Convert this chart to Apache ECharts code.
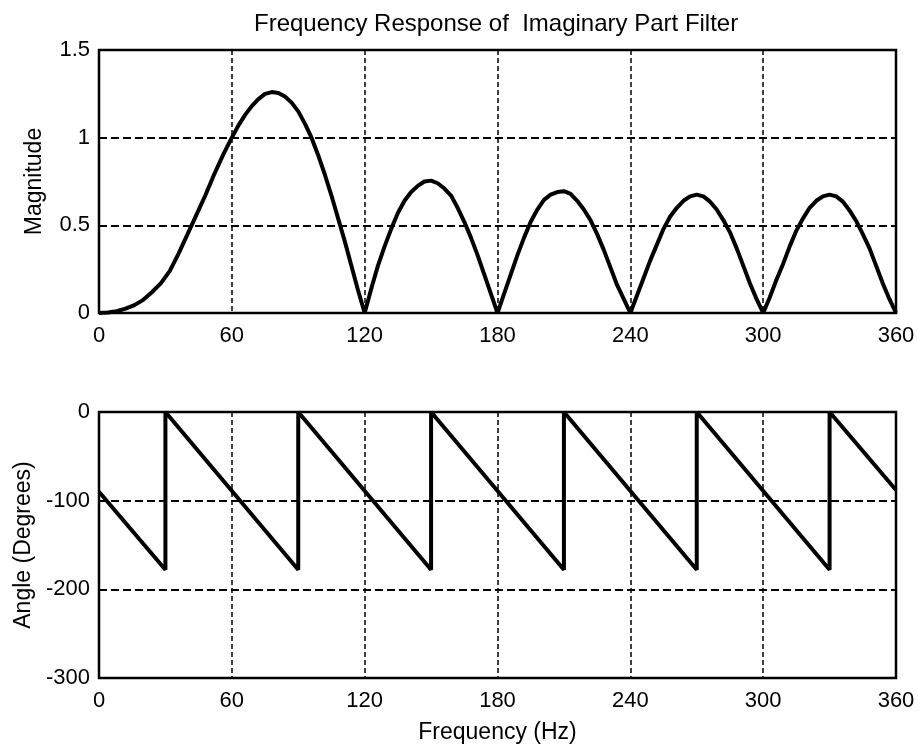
<!DOCTYPE html>
<html>
<head>
<meta charset="utf-8">
<title>Frequency Response of Imaginary Part Filter</title>
<script src="https://cdn.jsdelivr.net/npm/echarts@6/dist/echarts.min.js"></script>
<style>
  html, body { margin: 0; padding: 0; background: #fff; }
  .chartBox { width: 918px; height: 749px; }
</style>
</head>
<body>
<div class="chartBox"></div>
<script>
// magnitude
const magFreq = [0, 4, 8, 12, 16, 20, 24, 28, 32, 36, 40, 44, 48, 52, 56, 60, 63, 66, 69, 72, 75, 78, 81, 84, 87, 90, 93, 96, 99, 102, 105, 108, 111, 114, 117, 120,
  123, 126, 129, 132, 135, 138, 141, 144, 147, 150, 153, 156, 159, 162, 165, 168, 171, 174, 177, 180,
  183, 186, 189, 192, 195, 198, 201, 204, 207, 210, 213, 216, 219, 222, 225, 228, 231, 234, 237, 240,
  243, 246, 249, 252, 255, 258, 261, 264, 267, 270, 273, 276, 279, 282, 285, 288, 291, 294, 297, 300,
  303, 306, 309, 312, 315, 318, 321, 324, 327, 330, 333, 336, 339, 342, 345, 348, 351, 354, 357, 360];
const magValue = [0, 0.003, 0.01, 0.025, 0.045, 0.075, 0.12, 0.17, 0.24, 0.34, 0.45, 0.56, 0.67, 0.79, 0.9, 1.0, 1.07, 1.13, 1.18, 1.22, 1.25, 1.26, 1.255, 1.235, 1.2, 1.15, 1.08, 1.0, 0.9, 0.79, 0.67, 0.54, 0.41, 0.27, 0.13, 0,
  0.14, 0.27, 0.38, 0.48, 0.57, 0.64, 0.69, 0.725, 0.75, 0.755, 0.74, 0.71, 0.67, 0.6, 0.52, 0.43, 0.33, 0.22, 0.11, 0,
  0.11, 0.22, 0.33, 0.43, 0.52, 0.59, 0.645, 0.675, 0.69, 0.695, 0.68, 0.64, 0.59, 0.53, 0.45, 0.36, 0.26, 0.16, 0.08, 0,
  0.1, 0.2, 0.3, 0.39, 0.48, 0.55, 0.6, 0.64, 0.665, 0.675, 0.665, 0.635, 0.59, 0.53, 0.46, 0.37, 0.27, 0.17, 0.08, 0,
  0.09, 0.19, 0.28, 0.38, 0.47, 0.54, 0.6, 0.64, 0.665, 0.675, 0.665, 0.635, 0.585, 0.525, 0.45, 0.37, 0.27, 0.17, 0.08, 0];

// phase (sawtooth corners)
const phaseFreq = [0, 30, 30, 90, 90, 150, 150, 210, 210, 270, 270, 330, 330, 360];
const phaseDeg = [-90, -178, 0, -178, 0, -178, 0, -178, 0, -178, 0, -178, 0, -88];

const freqTicks = [0, 60, 120, 180, 240, 300, 360];
const magTicks = [0, 0.5, 1, 1.5];
const degTicks = [-300, -200, -100, 0];

const FONT = "'Liberation Sans', Arial, sans-serif";

function pairs(xs, ys){
    let out = [];
    xs.forEach((x, i) => { out.push([x, ys[i]]); });
    return out;
}

function xAxisOf(gridIndex, name){
    return {
        gridIndex: gridIndex,
        type: 'value',
        min: freqTicks[0],
        max: freqTicks[freqTicks.length - 1],
        interval: freqTicks[1] - freqTicks[0],
        name: name,
        nameLocation: 'middle',
        nameGap: 43,
        nameTextStyle: { color: '#000', fontSize: 23, fontFamily: FONT },
        axisLine: { show: false },
        axisTick: { show: false },
        axisLabel: { color: '#000', fontSize: 22, fontFamily: FONT, margin: 12 },
        splitLine: { show: true, lineStyle: { color: '#000', width: 1.5, type: [5, 3] } }
    };
}

function yAxisOf(gridIndex, ticks, name, gap){
    return {
        gridIndex: gridIndex,
        type: 'value',
        min: ticks[0],
        max: ticks[ticks.length - 1],
        interval: ticks[1] - ticks[0],
        name: name,
        nameLocation: 'middle',
        nameGap: gap,
        nameTextStyle: { color: '#000', fontSize: 23, fontFamily: FONT },
        axisLine: { show: false },
        axisTick: { show: false },
        axisLabel: { color: '#000', fontSize: 22, fontFamily: FONT, margin: 9 },
        splitLine: { show: true, lineStyle: { color: '#000', width: 2, type: [8, 4] } }
    };
}

function createChart(){
    let chartDom = document.querySelector('.chartBox');
    let myChart = echarts.init(chartDom, null, { renderer: 'canvas' });
    let option;

    option = {
        animation: false,
        backgroundColor: '#fff',
        title: {
            // centred over the plot area, not the page
            text: 'Frequency Response of  Imaginary Part Filter',
            left: 249,
            top: 7,
            textStyle: { color: '#000', fontSize: 24, fontWeight: 'normal', fontFamily: FONT }
        },
        grid: [
            { left: 99, right: 22, top: 50, height: 263, show: true, borderColor: '#000', borderWidth: 2.5, backgroundColor: 'transparent' },
            { left: 99, right: 22, top: 412, height: 266, show: true, borderColor: '#000', borderWidth: 2.5, backgroundColor: 'transparent' }
        ],
        xAxis: [xAxisOf(0, ''), xAxisOf(1, 'Frequency (Hz)')],
        yAxis: [yAxisOf(0, magTicks, 'Magnitude', 53), yAxisOf(1, degTicks, 'Angle (Degrees)', 64)],
        series: [
            {
                type: 'line',
                xAxisIndex: 0,
                yAxisIndex: 0,
                data: pairs(magFreq, magValue),
                showSymbol: false,
                lineStyle: { color: '#000', width: 4 }
            },
            {
                type: 'line',
                xAxisIndex: 1,
                yAxisIndex: 1,
                data: pairs(phaseFreq, phaseDeg),
                showSymbol: false,
                lineStyle: { color: '#000', width: 4 }
            }
        ]
    };

    option && myChart.setOption(option);
}

document.addEventListener('DOMContentLoaded', function() {
    createChart();
});
</script>
</body>
</html>
